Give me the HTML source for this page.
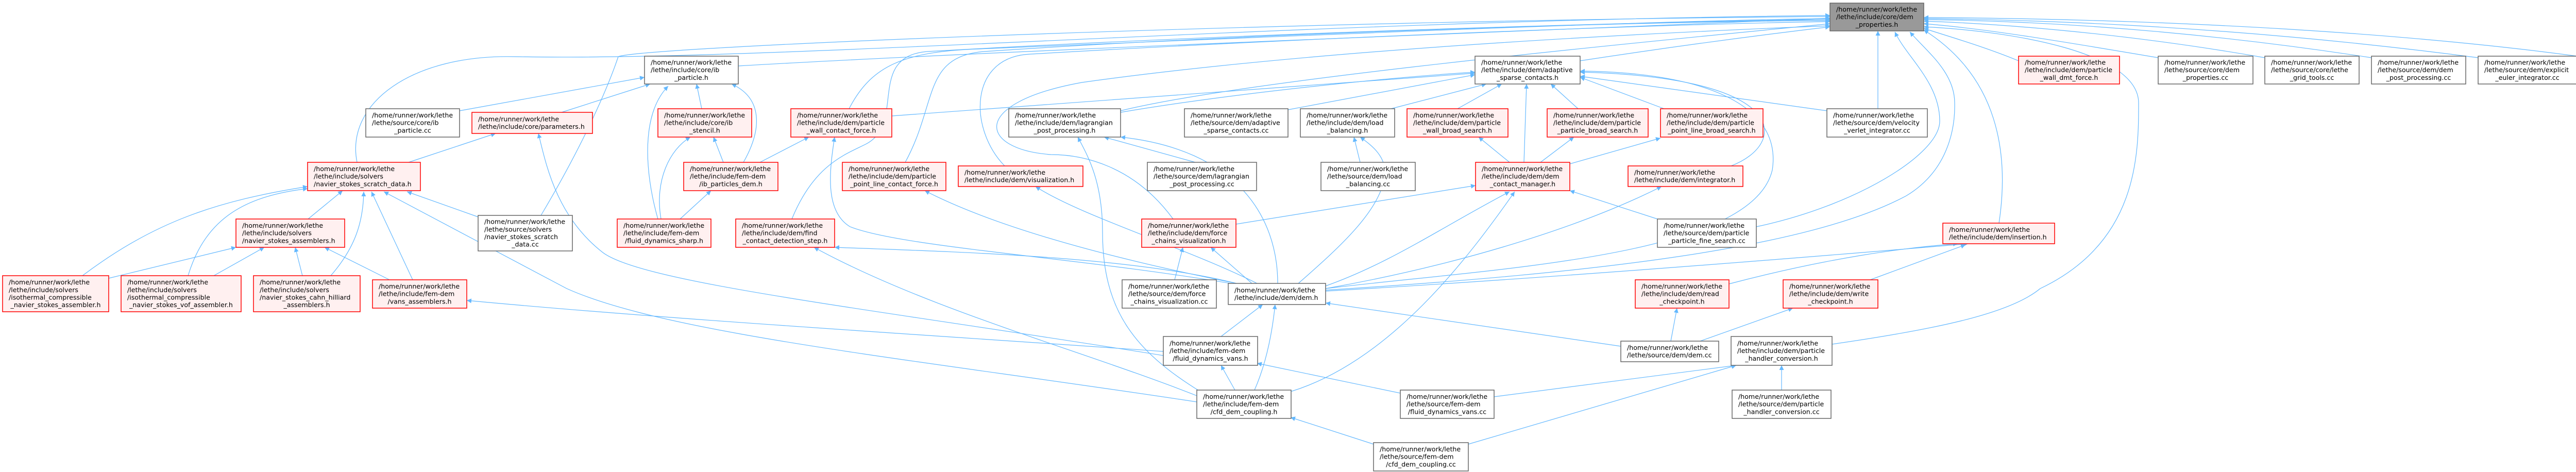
<!DOCTYPE html>
<html><head><meta charset="utf-8"><style>
html,body{margin:0;padding:0;background:#fff;}
svg{display:block;}
text{font-family:"DejaVu Sans","Liberation Sans",sans-serif;font-size:12.6px;fill:#000;}
.m{text-anchor:middle;}
.e{fill:none;stroke:#63b8ff;stroke-width:1.2;marker-end:url(#a);}
.r{fill:#fff0f0;stroke:#ff0000;stroke-width:1.5;}
.w{fill:#fff;stroke:#666;stroke-width:1.5;}
</style></head><body>
<svg width="5223" height="916" viewBox="0 0 5223 916" xmlns="http://www.w3.org/2000/svg">
<defs><marker id="a" viewBox="0 0 10 10" refX="10" refY="5" markerWidth="9" markerHeight="9" markerUnits="userSpaceOnUse" orient="auto"><path d="M0,0 L10,5 L0,10 z" fill="#63b8ff"/></marker></defs>
<g>
<path class="e" d="M1433,128 C2000,95 3000,60 3552,35"/>
<path class="e" d="M693,315 C670,200 800,105 1000,110 C1500,120 2500,40 3552,30"/>
<path class="e" d="M1050,418 C1150,250 1190,140 1200,110 C1250,90 2500,40 3552,32"/>
<path class="e" d="M1648,211 C1690,130 1750,100 1900,95 C2500,70 3200,40 3552,36"/>
<path class="e" d="M1537,425 C1580,320 1640,300 1680,280 C1760,240 1680,110 1800,100 C2500,60 3300,40 3552,38"/>
<path class="e" d="M1757,315 C1820,200 1790,110 1910,100 C2500,60 3300,40 3552,40"/>
<path class="e" d="M1950,322 C1880,250 1880,110 2000,105 C2600,70 3300,45 3552,42"/>
<path class="e" d="M2277,425 C2200,320 2100,300 2040,300 C1900,290 1880,200 2100,160 C2600,90 3300,60 3552,50"/>
<path class="e" d="M2175,215 C2400,160 3000,100 3552,46"/>
<path class="e" d="M3067,118 C3250,90 3400,70 3552,52"/>
<path class="e" d="M3918,118 C3850,90 3780,70 3734,55"/>
<path class="e" d="M4189,112 C4000,80 3850,55 3734,46"/>
<path class="e" d="M4396,112 C4100,60 3850,45 3734,41"/>
<path class="e" d="M4603,112 C4200,50 3900,40 3734,38"/>
<path class="e" d="M4810,112 C4300,45 3900,38 3734,36"/>
<path class="e" d="M5025,112 C4500,40 3900,35 3734,34"/>
<path class="e" d="M3556,668 C3750,640 3900,610 3960,560 C4150,470 4151,300 4151,200 C4151,100 3900,60 3734,52"/>
<path class="e" d="M3880,433 C3900,300 3880,150 3734,58"/>
<path class="e" d="M3645,211 L3645,60"/>
<path class="e" d="M3409,440 C3600,400 3765,300 3765,235 C3765,160 3700,110 3678,62"/>
<path class="e" d="M2573,563 C3100,530 3512,481 3700,380 C3800,320 3794,211 3794,200 C3794,140 3740,100 3707,62"/>
<path class="e" d="M2573,560 C2900,520 3400,500 3440,330 C3460,200 3300,140 3067,138"/>
<path class="e" d="M2500,213 L2863,145"/>
<path class="e" d="M2700,211 L2885,163"/>
<path class="e" d="M2175,218 C2400,180 2700,150 2863,140"/>
<path class="e" d="M1731,225 C2200,190 2600,160 2863,142"/>
<path class="e" d="M2829,211 L2915,163"/>
<path class="e" d="M2958,315 L2963,163"/>
<path class="e" d="M3063,211 L3010,163"/>
<path class="e" d="M3230,211 L3067,150"/>
<path class="e" d="M3546,215 L3067,148"/>
<path class="e" d="M3360,322 C3470,280 3480,150 3067,140"/>
<path class="e" d="M2930,315 L2870,266"/>
<path class="e" d="M2990,315 L3055,266"/>
<path class="e" d="M3047,318 L3223,268"/>
<path class="e" d="M3217,425 L3047,370"/>
<path class="e" d="M2399,435 L2864,360"/>
<path class="e" d="M2573,555 C2700,510 2800,440 2930,372"/>
<path class="e" d="M2505,760 C2700,700 2850,500 2940,372"/>
<path class="e" d="M2573,560 C2800,520 3050,450 3225,362"/>
<path class="e" d="M2573,565 C3000,540 3500,500 3820,473"/>
<path class="e" d="M3356,551 C3550,500 3700,480 3800,473"/>
<path class="e" d="M3630,543 L3815,475"/>
<path class="e" d="M2520,550 C2600,480 2690,400 2688,330 C2686,300 2660,280 2640,266"/>
<path class="e" d="M2640,315 L2628,266"/>
<path class="e" d="M2320,315 L2143,266"/>
<path class="e" d="M2330,760 C2200,680 2140,600 2140,450 C2140,350 2110,300 2092,266"/>
<path class="e" d="M2480,550 C2480,420 2400,290 2175,266"/>
<path class="e" d="M2430,550 L2350,480"/>
<path class="e" d="M2280,543 L2296,480"/>
<path class="e" d="M2400,550 C2200,500 1900,490 1620,480"/>
<path class="e" d="M2400,552 C2100,500 1750,480 1650,440 C1600,410 1610,330 1620,266"/>
<path class="e" d="M2400,550 C2200,510 1950,450 1795,370"/>
<path class="e" d="M2440,550 C2300,480 2100,420 2010,362"/>
<path class="e" d="M2370,653 L2451,591"/>
<path class="e" d="M2435,757 C2460,700 2470,640 2475,591"/>
<path class="e" d="M2397,757 L2370,709"/>
<path class="e" d="M2323,768 C2100,680 1800,600 1580,480"/>
<path class="e" d="M2718,763 L2440,705"/>
<path class="e" d="M2900,770 L3370,709"/>
<path class="e" d="M2666,862 L2505,810"/>
<path class="e" d="M2850,862 L3370,709"/>
<path class="e" d="M3146,672 L2573,588"/>
<path class="e" d="M3243,662 L3255,598"/>
<path class="e" d="M3300,662 L3480,598"/>
<path class="e" d="M3458,757 L3458,709"/>
<path class="e" d="M2258,690 C1700,600 1250,550 1170,490 C1080,420 1060,320 1045,259"/>
<path class="e" d="M2258,682 C1800,650 1300,620 906,583"/>
<path class="e" d="M2323,780 C1800,700 1300,650 1100,560 C950,480 800,400 745,372"/>
<path class="e" d="M892,215 L1251,150"/>
<path class="e" d="M1090,218 L1262,163"/>
<path class="e" d="M793,315 L962,259"/>
<path class="e" d="M1362,211 L1352,163"/>
<path class="e" d="M1404,315 L1385,266"/>
<path class="e" d="M1443,315 C1480,250 1480,190 1420,163"/>
<path class="e" d="M1320,425 L1380,370"/>
<path class="e" d="M1283,425 C1270,350 1300,290 1340,266"/>
<path class="e" d="M1277,425 C1250,330 1245,220 1297,167"/>
<path class="e" d="M1475,315 L1570,266"/>
<path class="e" d="M598,425 L665,370"/>
<path class="e" d="M160,535 C300,430 420,390 597,362"/>
<path class="e" d="M211,540 L458,480"/>
<path class="e" d="M365,535 C400,420 480,380 597,366"/>
<path class="e" d="M415,535 L513,480"/>
<path class="e" d="M587,535 L573,480"/>
<path class="e" d="M642,535 C690,480 705,430 706,372"/>
<path class="e" d="M756,543 L630,480"/>
<path class="e" d="M801,543 L721,372"/>
<path class="e" d="M928,421 L790,372"/>
</g>

<g transform="translate(3552,6)"><rect width="182" height="54" fill="#999" stroke="#666" stroke-width="1.5"/><text x="12" y="16.5">/home/runner/work/lethe</text><text x="12" y="31.2">/lethe/include/core/dem</text><text class="m" x="91" y="45.9">_properties.h</text></g>

<g transform="translate(710,211)"><rect class="w" width="182" height="55"/><text x="12" y="17">/home/runner/work/lethe</text><text x="12" y="31.7">/lethe/source/core/ib</text><text class="m" x="91" y="46.4">_particle.cc</text></g>
<g transform="translate(916,218)"><rect class="r" width="234" height="41"/><text x="12" y="17.3">/home/runner/work/lethe</text><text x="12" y="32">/lethe/include/core/parameters.h</text></g>
<g transform="translate(597,315)"><rect class="r" width="219" height="55"/><text x="12" y="17">/home/runner/work/lethe</text><text x="12" y="31.7">/lethe/include/solvers</text><text x="12" y="46.4">/navier_stokes_scratch_data.h</text></g>
<g transform="translate(458,425)"><rect class="r" width="211" height="55"/><text x="12" y="17">/home/runner/work/lethe</text><text x="12" y="31.7">/lethe/include/solvers</text><text x="12" y="46.4">/navier_stokes_assemblers.h</text></g>
<g transform="translate(5,535)"><rect class="r" width="206" height="70"/><text x="12" y="17.1">/home/runner/work/lethe</text><text x="12" y="31.8">/lethe/include/solvers</text><text x="12" y="46.5">/isothermal_compressible</text><text class="m" x="103" y="61.2">_navier_stokes_assembler.h</text></g>
<g transform="translate(235,535)"><rect class="r" width="233" height="70"/><text x="12" y="17.1">/home/runner/work/lethe</text><text x="12" y="31.8">/lethe/include/solvers</text><text x="12" y="46.5">/isothermal_compressible</text><text class="m" x="116.5" y="61.2">_navier_stokes_vof_assembler.h</text></g>
<g transform="translate(492,535)"><rect class="r" width="207" height="70"/><text x="12" y="17.1">/home/runner/work/lethe</text><text x="12" y="31.8">/lethe/include/solvers</text><text x="12" y="46.5">/navier_stokes_cahn_hilliard</text><text class="m" x="103.5" y="61.2">_assemblers.h</text></g>
<g transform="translate(723,543)"><rect class="r" width="183" height="55"/><text x="12" y="17">/home/runner/work/lethe</text><text x="12" y="31.7">/lethe/include/fem-dem</text><text class="m" x="91.5" y="46.4">/vans_assemblers.h</text></g>
<g transform="translate(928,418)"><rect class="w" width="183" height="69"/><text x="12" y="16.6">/home/runner/work/lethe</text><text x="12" y="31.3">/lethe/source/solvers</text><text x="12" y="46">/navier_stokes_scratch</text><text class="m" x="91.5" y="60.7">_data.cc</text></g>
<g transform="translate(1251,109)"><rect class="w" width="182" height="54"/><text x="12" y="16.5">/home/runner/work/lethe</text><text x="12" y="31.2">/lethe/include/core/ib</text><text class="m" x="91" y="45.9">_particle.h</text></g>
<g transform="translate(1277,211)"><rect class="r" width="182" height="55"/><text x="12" y="17">/home/runner/work/lethe</text><text x="12" y="31.7">/lethe/include/core/ib</text><text class="m" x="91" y="46.4">_stencil.h</text></g>
<g transform="translate(1198,425)"><rect class="r" width="182" height="55"/><text x="12" y="17">/home/runner/work/lethe</text><text x="12" y="31.7">/lethe/include/fem-dem</text><text class="m" x="91" y="46.4">/fluid_dynamics_sharp.h</text></g>
<g transform="translate(1327,315)"><rect class="r" width="183" height="55"/><text x="12" y="17">/home/runner/work/lethe</text><text x="12" y="31.7">/lethe/include/fem-dem</text><text class="m" x="91.5" y="46.4">/ib_particles_dem.h</text></g>
<g transform="translate(1535,211)"><rect class="r" width="196" height="55"/><text x="12" y="17">/home/runner/work/lethe</text><text x="12" y="31.7">/lethe/include/dem/particle</text><text class="m" x="98" y="46.4">_wall_contact_force.h</text></g>
<g transform="translate(1428,425)"><rect class="r" width="192" height="55"/><text x="12" y="17">/home/runner/work/lethe</text><text x="12" y="31.7">/lethe/include/dem/find</text><text class="m" x="96" y="46.4">_contact_detection_step.h</text></g>
<g transform="translate(1635,315)"><rect class="r" width="201" height="55"/><text x="12" y="17">/home/runner/work/lethe</text><text x="12" y="31.7">/lethe/include/dem/particle</text><text class="m" x="100.5" y="46.4">_point_line_contact_force.h</text></g>
<g transform="translate(1860,322)"><rect class="r" width="242" height="40"/><text x="12" y="16.8">/home/runner/work/lethe</text><text x="12" y="31.5">/lethe/include/dem/visualization.h</text></g>
<g transform="translate(1958,211)"><rect class="w" width="217" height="55"/><text x="12" y="17">/home/runner/work/lethe</text><text x="12" y="31.7">/lethe/include/dem/lagrangian</text><text class="m" x="108.5" y="46.4">_post_processing.h</text></g>
<g transform="translate(2227,315)"><rect class="w" width="212" height="55"/><text x="12" y="17">/home/runner/work/lethe</text><text x="12" y="31.7">/lethe/source/dem/lagrangian</text><text class="m" x="106" y="46.4">_post_processing.cc</text></g>
<g transform="translate(2299,211)"><rect class="w" width="201" height="55"/><text x="12" y="17">/home/runner/work/lethe</text><text x="12" y="31.7">/lethe/source/dem/adaptive</text><text class="m" x="100.5" y="46.4">_sparse_contacts.cc</text></g>
<g transform="translate(2524,211)"><rect class="w" width="183" height="55"/><text x="12" y="17">/home/runner/work/lethe</text><text x="12" y="31.7">/lethe/include/dem/load</text><text class="m" x="91.5" y="46.4">_balancing.h</text></g>
<g transform="translate(2564,315)"><rect class="w" width="183" height="55"/><text x="12" y="17">/home/runner/work/lethe</text><text x="12" y="31.7">/lethe/source/dem/load</text><text class="m" x="91.5" y="46.4">_balancing.cc</text></g>
<g transform="translate(2216,425)"><rect class="r" width="183" height="55"/><text x="12" y="17">/home/runner/work/lethe</text><text x="12" y="31.7">/lethe/include/dem/force</text><text class="m" x="91.5" y="46.4">_chains_visualization.h</text></g>
<g transform="translate(2178,543)"><rect class="w" width="183" height="55"/><text x="12" y="17">/home/runner/work/lethe</text><text x="12" y="31.7">/lethe/source/dem/force</text><text class="m" x="91.5" y="46.4">_chains_visualization.cc</text></g>
<g transform="translate(2384,550)"><rect class="w" width="189" height="41"/><text x="12" y="17.3">/home/runner/work/lethe</text><text x="12" y="32">/lethe/include/dem/dem.h</text></g>
<g transform="translate(2258,653)"><rect class="w" width="183" height="56"/><text x="12" y="17.5">/home/runner/work/lethe</text><text x="12" y="32.2">/lethe/include/fem-dem</text><text class="m" x="91.5" y="46.9">/fluid_dynamics_vans.h</text></g>
<g transform="translate(2323,757)"><rect class="w" width="183" height="55"/><text x="12" y="17">/home/runner/work/lethe</text><text x="12" y="31.7">/lethe/include/fem-dem</text><text class="m" x="91.5" y="46.4">/cfd_dem_coupling.h</text></g>
<g transform="translate(2863,109)"><rect class="w" width="204" height="54"/><text x="12" y="16.5">/home/runner/work/lethe</text><text x="12" y="31.2">/lethe/include/dem/adaptive</text><text class="m" x="102" y="45.9">_sparse_contacts.h</text></g>
<g transform="translate(2731,211)"><rect class="r" width="196" height="55"/><text x="12" y="17">/home/runner/work/lethe</text><text x="12" y="31.7">/lethe/include/dem/particle</text><text class="m" x="98" y="46.4">_wall_broad_search.h</text></g>
<g transform="translate(3003,211)"><rect class="r" width="196" height="55"/><text x="12" y="17">/home/runner/work/lethe</text><text x="12" y="31.7">/lethe/include/dem/particle</text><text class="m" x="98" y="46.4">_particle_broad_search.h</text></g>
<g transform="translate(3223,211)"><rect class="r" width="199" height="55"/><text x="12" y="17">/home/runner/work/lethe</text><text x="12" y="31.7">/lethe/include/dem/particle</text><text class="m" x="99.5" y="46.4">_point_line_broad_search.h</text></g>
<g transform="translate(3546,211)"><rect class="w" width="195" height="55"/><text x="12" y="17">/home/runner/work/lethe</text><text x="12" y="31.7">/lethe/source/dem/velocity</text><text class="m" x="97.5" y="46.4">_verlet_integrator.cc</text></g>
<g transform="translate(2864,315)"><rect class="r" width="183" height="55"/><text x="12" y="17">/home/runner/work/lethe</text><text x="12" y="31.7">/lethe/include/dem/dem</text><text class="m" x="91.5" y="46.4">_contact_manager.h</text></g>
<g transform="translate(3160,322)"><rect class="r" width="223" height="40"/><text x="12" y="16.8">/home/runner/work/lethe</text><text x="12" y="31.5">/lethe/include/dem/integrator.h</text></g>
<g transform="translate(3217,425)"><rect class="w" width="192" height="55"/><text x="12" y="17">/home/runner/work/lethe</text><text x="12" y="31.7">/lethe/source/dem/particle</text><text class="m" x="96" y="46.4">_particle_fine_search.cc</text></g>
<g transform="translate(3771,433)"><rect class="r" width="217" height="40"/><text x="12" y="16.8">/home/runner/work/lethe</text><text x="12" y="31.5">/lethe/include/dem/insertion.h</text></g>
<g transform="translate(3174,543)"><rect class="r" width="182" height="55"/><text x="12" y="17">/home/runner/work/lethe</text><text x="12" y="31.7">/lethe/include/dem/read</text><text class="m" x="91" y="46.4">_checkpoint.h</text></g>
<g transform="translate(3461,543)"><rect class="r" width="184" height="55"/><text x="12" y="17">/home/runner/work/lethe</text><text x="12" y="31.7">/lethe/include/dem/write</text><text class="m" x="92" y="46.4">_checkpoint.h</text></g>
<g transform="translate(3146,662)"><rect class="w" width="190" height="40"/><text x="12" y="16.8">/home/runner/work/lethe</text><text x="12" y="31.5">/lethe/source/dem/dem.cc</text></g>
<g transform="translate(3360,653)"><rect class="w" width="196" height="56"/><text x="12" y="17.5">/home/runner/work/lethe</text><text x="12" y="32.2">/lethe/include/dem/particle</text><text class="m" x="98" y="46.9">_handler_conversion.h</text></g>
<g transform="translate(2718,757)"><rect class="w" width="182" height="55"/><text x="12" y="17">/home/runner/work/lethe</text><text x="12" y="31.7">/lethe/source/fem-dem</text><text class="m" x="91" y="46.4">/fluid_dynamics_vans.cc</text></g>
<g transform="translate(3362,757)"><rect class="w" width="192" height="55"/><text x="12" y="17">/home/runner/work/lethe</text><text x="12" y="31.7">/lethe/source/dem/particle</text><text class="m" x="96" y="46.4">_handler_conversion.cc</text></g>
<g transform="translate(2666,859)"><rect class="w" width="184" height="55"/><text x="12" y="17">/home/runner/work/lethe</text><text x="12" y="31.7">/lethe/source/fem-dem</text><text class="m" x="92" y="46.4">/cfd_dem_coupling.cc</text></g>
<g transform="translate(3918,109)"><rect class="r" width="196" height="54"/><text x="12" y="16.5">/home/runner/work/lethe</text><text x="12" y="31.2">/lethe/include/dem/particle</text><text class="m" x="98" y="45.9">_wall_dmt_force.h</text></g>
<g transform="translate(4189,109)"><rect class="w" width="184" height="54"/><text x="12" y="16.5">/home/runner/work/lethe</text><text x="12" y="31.2">/lethe/source/core/dem</text><text class="m" x="92" y="45.9">_properties.cc</text></g>
<g transform="translate(4396,109)"><rect class="w" width="183" height="54"/><text x="12" y="16.5">/home/runner/work/lethe</text><text x="12" y="31.2">/lethe/source/core/lethe</text><text class="m" x="91.5" y="45.9">_grid_tools.cc</text></g>
<g transform="translate(4603,109)"><rect class="w" width="183" height="54"/><text x="12" y="16.5">/home/runner/work/lethe</text><text x="12" y="31.2">/lethe/source/dem/dem</text><text class="m" x="91.5" y="45.9">_post_processing.cc</text></g>
<g transform="translate(4810,109)"><rect class="w" width="191" height="54"/><text x="12" y="16.5">/home/runner/work/lethe</text><text x="12" y="31.2">/lethe/source/dem/explicit</text><text class="m" x="95.5" y="45.9">_euler_integrator.cc</text></g>
<g transform="translate(5025,109)"><rect class="w" width="192" height="54"/><text x="12" y="16.5">/home/runner/work/lethe</text><text x="12" y="31.2">/lethe/source/dem/particle</text><text class="m" x="96" y="45.9">_point_line_fine_search.cc</text></g>
</svg>
</body></html>
